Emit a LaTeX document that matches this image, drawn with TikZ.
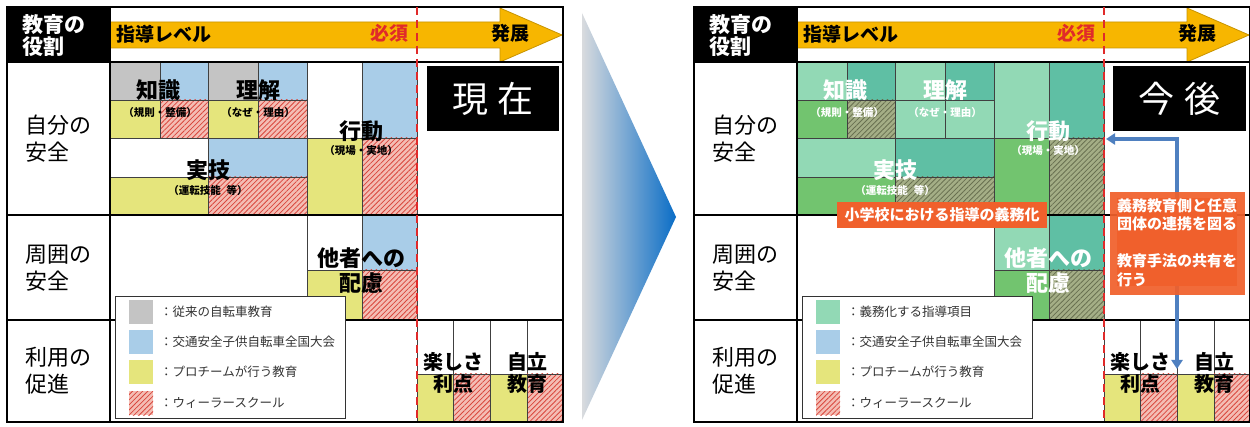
\documentclass[tikz,border=0pt]{standalone}
\usepackage{fontspec}
\setmainfont{Noto Sans CJK JP}
\usetikzlibrary{patterns.meta,arrows.meta}
\definecolor{cgray}{HTML}{C4C4C4}
\definecolor{cblue}{HTML}{A9CDE8}
\definecolor{cyel}{HTML}{E5E57C}
\definecolor{cpink}{HTML}{F4BDB4}
\definecolor{cred}{HTML}{D9463C}
\definecolor{cmint}{HTML}{92D9B5}
\definecolor{cteal}{HTML}{5FBFA4}
\definecolor{cgreen}{HTML}{72C46F}
\definecolor{colive}{HTML}{A4AE86}
\definecolor{colivel}{HTML}{687050}
\definecolor{corange}{HTML}{F0602C}
\definecolor{cband}{HTML}{F7B600}
\definecolor{cbandline}{HTML}{C89400}
\definecolor{cdash}{HTML}{E02A2A}
\definecolor{carrow}{HTML}{4F80C0}
\definecolor{cgradL}{HTML}{D9DBDE}
\definecolor{cgradR}{HTML}{0A6DC6}
\definecolor{clegtxt}{HTML}{333333}
\tikzset{
  cell/.style={draw=black!75,line width=0.8pt},
  fwhite/.style={cell,fill=white},
  fgray/.style={cell,fill=cgray},
  fblue/.style={cell,fill=cblue},
  fyel/.style={cell,fill=cyel},
  fred/.style={cell,preaction={fill=cpink},pattern={Lines[angle=45,distance=3.6pt,line width=0.8pt]},pattern color=cred},
  fmint/.style={cell,fill=cmint},
  fteal/.style={cell,fill=cteal},
  fgreen/.style={cell,fill=cgreen},
  folive/.style={cell,preaction={fill=colive},pattern={Lines[angle=45,distance=3.6pt,line width=0.8pt]},pattern color=colivel},
  frame/.style={draw=black,line width=1.6pt},
  ctext/.style={text=black},
  bigtxt/.style={ctext,inner sep=0pt,font=\bfseries\fontsize{22}{26}\selectfont,align=center},
  smalltxt/.style={ctext,inner sep=0pt,font=\bfseries\fontsize{10.5}{12}\selectfont},
  r3txt/.style={text=black,inner sep=0pt,font=\bfseries\fontsize{20}{24}\selectfont},
  rowlab/.style={anchor=west,align=left,inner sep=0pt,font=\fontsize{22}{27}\selectfont},
  hdrtxt/.style={anchor=west,align=left,inner sep=0pt,text=white,font=\bfseries\fontsize{21}{22}\selectfont},
  bandtxt/.style={inner sep=0pt,font=\bfseries\fontsize{19}{22}\selectfont},
  timebox/.style={fill=black,text=white,inner sep=0pt,font=\fontsize{36}{40}\selectfont},
  legtxt/.style={anchor=west,inner sep=0pt,text=clegtxt,font=\fontsize{12.5}{14}\selectfont},
  dashline/.style={draw=cdash,line width=2.2pt,dash pattern=on 8pt off 5pt},
  orangebox/.style={fill=corange,text=white,inner sep=0pt,font=\bfseries\fontsize{15}{18.5}\selectfont},
  bluearrow/.style={draw=carrow,line width=3.6pt,{Triangle[length=9pt,width=11pt]}-{Triangle[length=9pt,width=11pt]}}
}
\newcommand\panelbase[1]{%
  \fill[white] (7,7) rectangle (563,422);
  % header
  \fill[black] (7,7) rectangle (110,62);
  \node[hdrtxt] (role) at (22,36) {教育の\\役割};
  \path[fill=cband,draw=cbandline,line width=0.8pt] (110,22) -- (500,22) -- (500,8) -- (562,35) -- (500,62) -- (500,48) -- (110,48);
  \node[bandtxt,anchor=west] (level) at (116,34) {指導レベル};
  \node[bandtxt,text=cdash] (must) at (389,33) {必須};
  \node[bandtxt] (dev) at (510,33) {発展};
  % cells
  \path[cA1] (110,62) rectangle (160,100);
  \path[cA2] (160,62) rectangle (208,100);
  \path[cA3] (110,100) rectangle (160,138);
  \path[cA4] (160,100) rectangle (208,138);
  \path[cB1] (208,62) rectangle (258,100);
  \path[cB2] (258,62) rectangle (307,100);
  \path[cB3] (208,100) rectangle (258,138);
  \path[cB4] (258,100) rectangle (307,138);
  \path[cC1] (110,138) rectangle (208,177);
  \path[cC2] (208,138) rectangle (307,177);
  \path[cC3] (110,177) rectangle (208,215);
  \path[cC4] (208,177) rectangle (307,215);
  \path[cD1] (307,62) rectangle (362,138);
  \path[cD2] (362,62) rectangle (417,138);
  \path[cD3] (307,138) rectangle (362,215);
  \path[cD4] (362,138) rectangle (417,215);
  \path[cE1] (307,215) rectangle (362,270);
  \path[cE2] (362,215) rectangle (417,270);
  \path[cE3] (307,270) rectangle (362,320);
  \path[cE4] (362,270) rectangle (417,320);
  \path[fwhite] (417,215) rectangle (563,320);
  \path[fwhite] (417,320) rectangle (453,374);
  \path[fwhite] (453,320) rectangle (490,374);
  \path[fwhite] (490,320) rectangle (527,374);
  \path[fwhite] (527,320) rectangle (563,374);
  \path[fyel] (417,374) rectangle (453,422);
  \path[fred] (453,374) rectangle (490,422);
  \path[fyel] (490,374) rectangle (527,422);
  \path[fred] (527,374) rectangle (563,422);
  % cell texts
  \node[bigtxt] (k1) at (158,90) {知識};
  \node[smalltxt] (k1s) at (160,113) {（規則・整備）};
  \node[bigtxt] (k2) at (258,90) {理解};
  \node[smalltxt] (k2s) at (258,113) {（なぜ・理由）};
  \node[bigtxt] (k3) at (208,170) {実技};
  \node[smalltxt] (k3s) at (208,191) {（運転技能\hspace{6pt}等）};
  \node[bigtxt] (k4) at (361,131) {行動};
  \node[smalltxt] (k4s) at (361,151) {（現場・実地）};
  \node[bigtxt] (k5) at (361,258) {他者への};
  \node[bigtxt] (k5b) at (361,283) {配慮};
  \node[r3txt] (fun) at (453,362) {楽しさ};
  \node[r3txt] (merit) at (453,384) {利点};
  \node[r3txt] (indep) at (527,362) {自立};
  \node[r3txt] (edu) at (527,384) {教育};
  % row labels
  \node[rowlab] (row1) at (25,139) {自分の\\安全};
  \node[rowlab] (row2) at (25,268) {周囲の\\安全};
  \node[rowlab] (row3) at (25,371) {利用の\\促進};
  % frame lines
  \draw[frame] (7,62) -- (563,62);
  \draw[frame] (7,215) -- (563,215);
  \draw[frame] (7,320) -- (563,320);
  \draw[frame] (110,7) -- (110,422);
  \draw[frame] (7,7) rectangle (563,422);
  \draw[dashline] (417,7) -- (417,422);
  % legend
  \path[draw=black!80,line width=1pt,fill=white] (115,297) rectangle (345,418);
  \path[#1] (129,300) rectangle (153,324);
  \path[fblue,draw=none] (129,330) rectangle (153,354);
  \path[fyel,draw=none] (129,360) rectangle (153,384);
  \path[fred,draw=none] (129,391) rectangle (153,415);
}
\begin{document}
\begin{tikzpicture}[x=1pt,y=-1pt]
\useasboundingbox (0,0) rectangle (1250,427);
\fill[white] (0,0) rectangle (1250,427);
% left panel: now
\begin{scope}[name prefix=L-,
  cA1/.style=fgray,cA2/.style=fblue,cA3/.style=fyel,cA4/.style=fred,
  cB1/.style=fgray,cB2/.style=fblue,cB3/.style=fyel,cB4/.style=fred,
  cC1/.style=fwhite,cC2/.style=fblue,cC3/.style=fyel,cC4/.style=fred,
  cD1/.style=fwhite,cD2/.style=fblue,cD3/.style=fyel,cD4/.style=fred,
  cE1/.style=fwhite,cE2/.style=fblue,cE3/.style=fyel,cE4/.style=fred]
  \panelbase{fgray,draw=none}
  \node[legtxt] (lg1) at (160,312) {：従来の自転車教育};
  \node[legtxt] (lg2) at (160,342) {：交通安全子供自転車全国大会};
  \node[legtxt] (lg3) at (160,372) {：プロチームが行う教育};
  \node[legtxt] (lg4) at (160,403) {：ウィーラースクール};
  \node[timebox,minimum width=132pt,minimum height=65pt] (now) at (493,98.5) {現\hspace{10pt}在};
\end{scope}
% middle arrow
\shade[left color=cgradL,right color=cgradR] (582,13) -- (676,217) -- (582,420) -- cycle;
% right panel: future
\begin{scope}[xshift=687pt,name prefix=R-,ctext/.style={text=white},
  cA1/.style=fmint,cA2/.style=fteal,cA3/.style=fgreen,cA4/.style=folive,
  cB1/.style=fmint,cB2/.style=fteal,cB3/.style=fmint,cB4/.style=fmint,
  cC1/.style=fmint,cC2/.style=fteal,cC3/.style=fgreen,cC4/.style=folive,
  cD1/.style=fmint,cD2/.style=fteal,cD3/.style=fgreen,cD4/.style=folive,
  cE1/.style=fmint,cE2/.style=fteal,cE3/.style=fgreen,cE4/.style=folive]
  \panelbase{fmint,draw=none}
  \node[legtxt] (lg1) at (160,312) {：義務化する指導項目};
  \node[legtxt] (lg2) at (160,342) {：交通安全子供自転車全国大会};
  \node[legtxt] (lg3) at (160,372) {：プロチームが行う教育};
  \node[legtxt] (lg4) at (160,403) {：ウィーラースクール};
  \node[timebox,minimum width=133pt,minimum height=65pt] (future) at (492.5,98.5) {今\hspace{10pt}後};
  \node[orangebox,minimum width=210pt,minimum height=26pt] (mandate) at (255,215) {小学校における指導の義務化};
  \coordinate (tipL) at (419,139);
  \coordinate (tipB) at (490,369);
  \draw[bluearrow] (tipL) -| (tipB);
  \node[orangebox,fill opacity=0.93,text opacity=1,minimum width=135pt,minimum height=103pt] (coop) at (490.5,243.5) {};
  \node[orangebox,anchor=north west,align=left] (cooptxt) at (430,198) {義務教育側と任意\\団体の連携を図る\\[18.5pt]教育手法の共有を\\行う};
\end{scope}
\end{tikzpicture}
\end{document}
